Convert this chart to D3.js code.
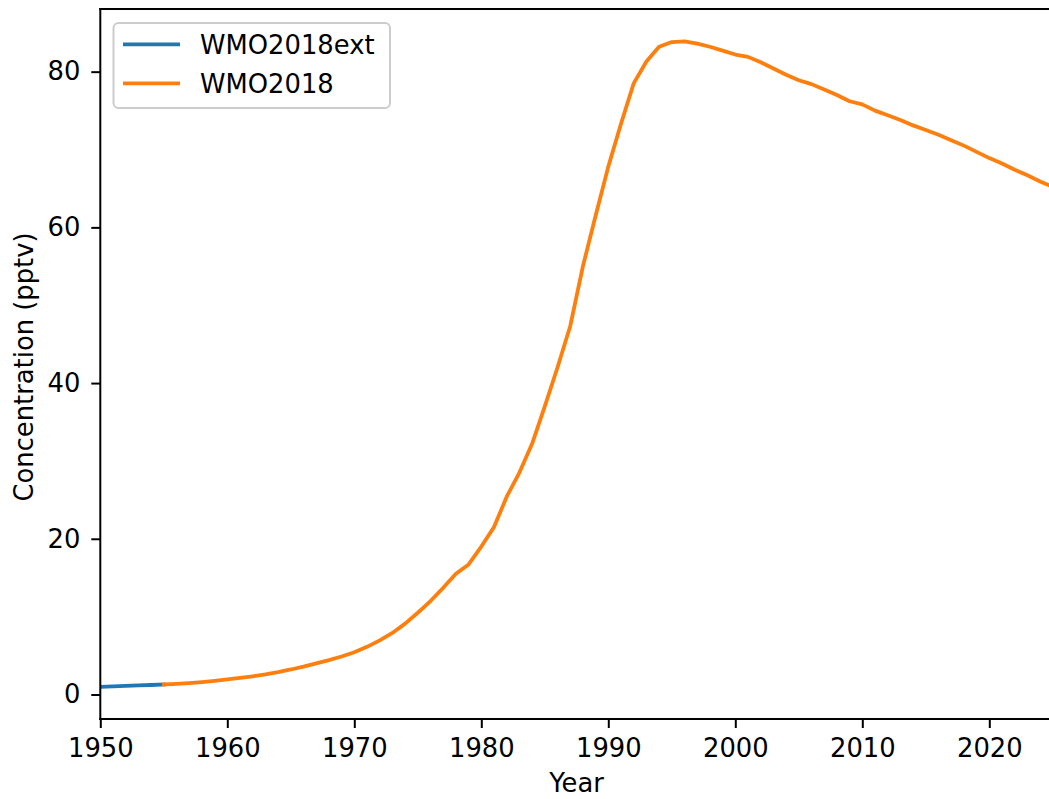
<!DOCTYPE html>
<html>
<head>
<meta charset="utf-8">
<script src="https://cdn.jsdelivr.net/npm/d3@7"></script>
<style>
  html, body { margin: 0; padding: 0; background: #ffffff; }
  svg { display: block; font-family: "DejaVu Sans", sans-serif; }
</style>
</head>
<body>
<svg id="chart" width="1049" height="799"></svg>
<script>
// ---- Data ----
const extYears = [1950, 1951, 1952, 1953, 1954, 1955];
const extValues = [0.98, 1.04, 1.10, 1.16, 1.22, 1.29];

const wmoYears = [1955, 1956, 1957, 1958, 1959, 1960, 1961, 1962, 1963, 1964,
  1965, 1966, 1967, 1968, 1969, 1970, 1971, 1972, 1973, 1974,
  1975, 1976, 1977, 1978, 1979, 1980, 1981, 1982, 1983, 1984,
  1985, 1986, 1987, 1988, 1989, 1990, 1991, 1992, 1993, 1994,
  1995, 1996, 1997, 1998, 1999, 2000, 2001, 2002, 2003, 2004,
  2005, 2006, 2007, 2008, 2009, 2010, 2011, 2012, 2013, 2014,
  2015, 2016, 2017, 2018, 2019, 2020, 2021, 2022, 2023, 2024, 2025];
const wmoValues = [1.29, 1.37, 1.47, 1.60, 1.75, 1.93, 2.12, 2.34, 2.59, 2.88,
  3.21, 3.58, 4.00, 4.42, 4.88, 5.42, 6.12, 6.95, 7.90, 9.10,
  10.5, 12.0, 13.7, 15.5, 16.7, 19.0, 21.5, 25.4, 28.5, 32.2,
  37.0, 42.0, 47.3, 55.0, 61.5, 67.8, 73.3, 78.5, 81.3, 83.2,
  83.8, 83.9, 83.6, 83.2, 82.7, 82.2, 81.9, 81.2, 80.4, 79.6,
  78.9, 78.4, 77.7, 77.0, 76.2, 75.8, 75.0, 74.4, 73.8, 73.1,
  72.5, 71.9, 71.2, 70.5, 69.7, 68.9, 68.2, 67.4, 66.7, 65.9, 65.2];

const seriesNames = ["WMO2018ext", "WMO2018"];
const seriesColors = ["#1f77b4", "#ff7f0e"];
const xTicks = [1950, 1960, 1970, 1980, 1990, 2000, 2010, 2020];
const yTicks = [0, 20, 40, 60, 80];
const xLabel = "Year";
const yLabel = "Concentration (pptv)";

// ---- Layout ----
const FS = 25.8;
const pL = 100.3, pR = 1052.8, pT = 9, pB = 719;

const svg = d3.select("#chart");
const x = d3.scaleLinear().domain([1950, 2025]).range([pL, pR]);
const y = d3.scaleLinear().domain([-3.15, 88.05]).range([pB, pT]);

svg.append("defs").append("clipPath").attr("id", "clip")
  .append("rect").attr("x", pL).attr("y", pT)
  .attr("width", pR - pL).attr("height", pB - pT);

const line = d3.line().x(d => x(d[0])).y(d => y(d[1]));
const plot = svg.append("g").attr("clip-path", "url(#clip)");

const series = [
  extYears.map((yr, i) => [yr, extValues[i]]),
  wmoYears.map((yr, i) => [yr, wmoValues[i]])
];
series.forEach((s, i) => {
  plot.append("path").datum(s)
    .attr("d", line)
    .attr("fill", "none")
    .attr("stroke", seriesColors[i])
    .attr("stroke-width", 3.8)
    .attr("stroke-linejoin", "round")
    .attr("stroke-linecap", "square");
});

// ---- Axes ----
const xAxis = d3.axisBottom(x).tickValues(xTicks).tickFormat(d3.format("d"))
  .tickSize(9).tickPadding(11).tickSizeOuter(0);
const gx = svg.append("g").attr("transform", `translate(0,${pB})`).call(xAxis);
gx.select(".domain").remove();
gx.selectAll("line").attr("stroke", "#000").attr("stroke-width", 2);
gx.selectAll("text").attr("font-size", FS).attr("fill", "#000")
  .attr("font-family", "DejaVu Sans");

const yAxis = d3.axisLeft(y).tickValues(yTicks).tickFormat(d3.format("d"))
  .tickSize(9).tickPadding(11).tickSizeOuter(0);
const gy = svg.append("g").attr("transform", `translate(${pL},0)`).call(yAxis);
gy.select(".domain").remove();
gy.selectAll("line").attr("stroke", "#000").attr("stroke-width", 2);
gy.selectAll("text").attr("font-size", FS).attr("fill", "#000")
  .attr("font-family", "DejaVu Sans");

// spines
const spines = svg.append("g").attr("stroke", "#000").attr("stroke-width", 2)
  .attr("stroke-linecap", "square");
spines.append("line").attr("x1", pL).attr("x2", pL).attr("y1", pT).attr("y2", pB);
spines.append("line").attr("x1", pL).attr("x2", pR).attr("y1", pB).attr("y2", pB);
spines.append("line").attr("x1", pL).attr("x2", pR).attr("y1", pT).attr("y2", pT);
spines.append("line").attr("x1", pR).attr("x2", pR).attr("y1", pT).attr("y2", pB);

// axis labels
svg.append("text").attr("x", (pL + pR) / 2).attr("y", 792)
  .attr("text-anchor", "middle").attr("font-size", FS).attr("fill", "#000")
  .text(xLabel);
svg.append("text").attr("transform", `translate(33,367) rotate(-90)`)
  .attr("text-anchor", "middle").attr("font-size", FS).attr("fill", "#000")
  .text(yLabel);

// ---- Legend ----
const lg = svg.append("g");
lg.append("rect").attr("x", 113.5).attr("y", 23).attr("width", 276.5).attr("height", 85)
  .attr("rx", 5).attr("ry", 5)
  .attr("fill", "#ffffff").attr("fill-opacity", 0.8)
  .attr("stroke", "#cccccc").attr("stroke-width", 2);
const rows = [44.3, 83.3];
seriesNames.forEach((name, i) => {
  lg.append("line").attr("x1", 123).attr("x2", 180)
    .attr("y1", rows[i]).attr("y2", rows[i])
    .attr("stroke", seriesColors[i]).attr("stroke-width", 3.8);
  lg.append("text").attr("x", 200).attr("y", rows[i] + 9.3)
    .attr("font-size", FS).attr("fill", "#000").text(name);
});
</script>
</body>
</html>
